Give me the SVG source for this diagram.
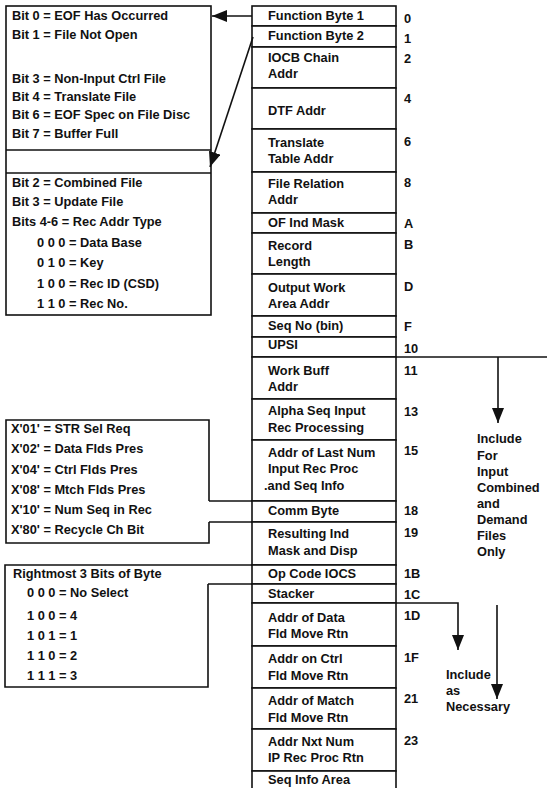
<svg xmlns="http://www.w3.org/2000/svg" width="547" height="788" viewBox="0 0 547 788">
<style>
text{font-family:"Liberation Sans",Arial,sans-serif;font-size:12.8px;font-weight:bold;fill:#111}
.box{fill:#fff;stroke:#111;stroke-width:1.6}
.ln{fill:none;stroke:#111;stroke-width:1.6}
</style>
<defs>
<marker id="arr" markerUnits="userSpaceOnUse" markerWidth="15" markerHeight="12" refX="15" refY="6" orient="auto"><path d="M0,0 L15,6 L0,12 z" fill="#111"/></marker>
</defs>
<rect width="547" height="788" fill="#fff"/>

<g id="left-box-1">
<rect class="box" x="6" y="6" width="205" height="309"/>
<line class="ln" x1="6" y1="150" x2="211" y2="150"/>
<line class="ln" x1="6" y1="173" x2="211" y2="173"/>
<text x="12" y="20">Bit 0 = EOF Has Occurred</text>
<text x="12" y="39">Bit 1 = File Not Open</text>
<text x="12" y="83">Bit 3 = Non-Input Ctrl File</text>
<text x="12" y="101">Bit 4 = Translate File</text>
<text x="12" y="119">Bit 6 = EOF Spec on File Disc</text>
<text x="12" y="138">Bit 7 = Buffer Full</text>
<text x="12" y="187">Bit 2 = Combined File</text>
<text x="12" y="206">Bit 3 = Update File</text>
<text x="12" y="226">Bits 4-6 = Rec Addr Type</text>
<text x="37" y="247">0 0 0 = Data Base</text>
<text x="37" y="267">0 1 0 = Key</text>
<text x="37" y="288">1 0 0 = Rec ID (CSD)</text>
<text x="37" y="308">1 1 0 = Rec No.</text>
</g>

<g id="left-box-2">
<path class="ln" d="M209,501 L209,420 L6,420 L6,543 L209,543 L209,522"/>
<text x="11" y="433">X'01' = STR Sel Req</text>
<text x="11" y="453">X'02' = Data Flds Pres</text>
<text x="11" y="474">X'04' = Ctrl Flds Pres</text>
<text x="11" y="494">X'08' = Mtch Flds Pres</text>
<text x="11" y="514">X'10' = Num Seq in Rec</text>
<text x="11" y="534">X'80' = Recycle Ch Bit</text>
</g>

<g id="left-box-3">
<path class="ln" d="M208,584 L208,687 L5,687 L5,565 L208,565"/>
<text x="13" y="578">Rightmost 3 Bits of Byte</text>
<text x="27" y="597">0 0 0 = No Select</text>
<text x="27" y="620">1 0 0 = 4</text>
<text x="27" y="640">1 0 1 = 1</text>
<text x="27" y="660">1 1 0 = 2</text>
<text x="27" y="680">1 1 1 = 3</text>
</g>

<g id="r00"><rect class="box" x="252" y="6" width="144" height="20"/><text x="268" y="20">Function Byte 1</text><text x="404" y="23">0</text></g>
<g id="r01"><rect class="box" x="252" y="26" width="144" height="21"/><text x="268" y="40">Function Byte 2</text><text x="404" y="43">1</text></g>
<g id="r02"><rect class="box" x="252" y="47" width="144" height="41"/><text x="268" y="62">IOCB Chain</text><text x="268" y="78">Addr</text><text x="404" y="63">2</text></g>
<g id="r04"><rect class="box" x="252" y="88" width="144" height="41"/><text x="268" y="115">DTF Addr</text><text x="404" y="103">4</text></g>
<g id="r06"><rect class="box" x="252" y="129" width="144" height="43"/><text x="268" y="147">Translate</text><text x="268" y="163">Table Addr</text><text x="404" y="146">6</text></g>
<g id="r08"><rect class="box" x="252" y="172" width="144" height="41"/><text x="268" y="188">File Relation</text><text x="268" y="204">Addr</text><text x="404" y="187">8</text></g>
<g id="r0A"><rect class="box" x="252" y="213" width="144" height="20"/><text x="268" y="227">OF Ind Mask</text><text x="404" y="228">A</text></g>
<g id="r0B"><rect class="box" x="252" y="233" width="144" height="41"/><text x="268" y="250">Record</text><text x="268" y="266">Length</text><text x="404" y="249">B</text></g>
<g id="r0D"><rect class="box" x="252" y="274" width="144" height="42"/><text x="268" y="292">Output Work</text><text x="268" y="308">Area Addr</text><text x="404" y="291">D</text></g>
<g id="r0F"><rect class="box" x="252" y="316" width="144" height="21"/><text x="268" y="330">Seq No (bin)</text><text x="404" y="331">F</text></g>
<g id="r10"><rect class="box" x="252" y="337" width="144" height="20"/><text x="268" y="349">UPSI</text><text x="404" y="353">10</text></g>
<g id="r11"><rect class="box" x="252" y="357" width="144" height="42"/><text x="268" y="375">Work Buff</text><text x="268" y="391">Addr</text><text x="404" y="375">11</text></g>
<g id="r13"><rect class="box" x="252" y="399" width="144" height="41"/><text x="268" y="415">Alpha Seq Input</text><text x="268" y="432">Rec Processing</text><text x="404" y="416">13</text></g>
<g id="r15"><rect class="box" x="252" y="440" width="144" height="61"/><text x="268" y="457">Addr of Last Num</text><text x="268" y="473">Input Rec Proc</text><text x="264" y="490">.and Seq Info</text><text x="404" y="455">15</text></g>
<g id="r18"><rect class="box" x="252" y="501" width="144" height="21"/><text x="268" y="515">Comm Byte</text><text x="404" y="515">18</text></g>
<g id="r19"><rect class="box" x="252" y="522" width="144" height="43"/><text x="268" y="538">Resulting Ind</text><text x="268" y="555">Mask and Disp</text><text x="404" y="537">19</text></g>
<g id="r1B"><rect class="box" x="252" y="565" width="144" height="19"/><text x="268" y="578">Op Code IOCS</text><text x="404" y="578">1B</text></g>
<g id="r1C"><rect class="box" x="252" y="584" width="144" height="19"/><text x="268" y="598">Stacker</text><text x="404" y="599">1C</text></g>
<g id="r1D"><rect class="box" x="252" y="603" width="144" height="43"/><text x="268" y="622">Addr of Data</text><text x="268" y="638">Fld Move Rtn</text><text x="404" y="620">1D</text></g>
<g id="r1F"><rect class="box" x="252" y="646" width="144" height="42"/><text x="268" y="663">Addr on Ctrl</text><text x="268" y="680">Fld Move Rtn</text><text x="404" y="662">1F</text></g>
<g id="r21"><rect class="box" x="252" y="688" width="144" height="41"/><text x="268" y="705">Addr of Match</text><text x="268" y="722">Fld Move Rtn</text><text x="404" y="703">21</text></g>
<g id="r23"><rect class="box" x="252" y="729" width="144" height="42"/><text x="268" y="746">Addr Nxt Num</text><text x="268" y="762">IP Rec Proc Rtn</text><text x="404" y="745">23</text></g>
<g id="rSeq"><rect class="box" x="252" y="771" width="144" height="30"/><text x="268" y="784">Seq Info Area</text></g>

<g id="notes">
<text x="477" y="443">Include</text>
<text x="477" y="460">For</text>
<text x="477" y="476">Input</text>
<text x="477" y="492">Combined</text>
<text x="477" y="508">and</text>
<text x="477" y="524">Demand</text>
<text x="477" y="540">Files</text>
<text x="477" y="556">Only</text>
<text x="446" y="679">Include</text>
<text x="446" y="695">as</text>
<text x="446" y="711">Necessary</text>
</g>

<g id="connectors">
<line class="ln" x1="252" y1="16" x2="212" y2="16" marker-end="url(#arr)"/>
<line class="ln" x1="253" y1="37" x2="210" y2="167" marker-end="url(#arr)"/>
<line class="ln" x1="209" y1="501" x2="252" y2="501"/>
<line class="ln" x1="209" y1="522" x2="252" y2="522"/>
<line class="ln" x1="208" y1="565" x2="252" y2="565"/>
<line class="ln" x1="208" y1="584" x2="252" y2="584"/>
<line class="ln" x1="396" y1="357" x2="547" y2="357"/>
<line class="ln" x1="498" y1="357" x2="498" y2="423" marker-end="url(#arr)"/>
<polyline class="ln" points="396,603 458,603 458,650" marker-end="url(#arr)"/>
<line class="ln" x1="497" y1="605" x2="497" y2="699" marker-end="url(#arr)"/>
</g>
</svg>
